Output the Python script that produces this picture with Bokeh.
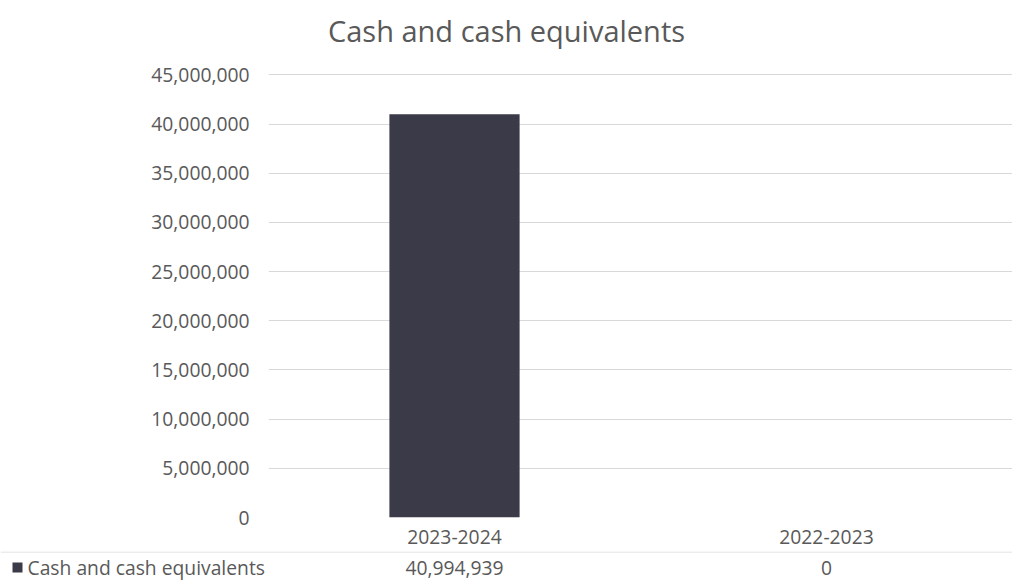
from bokeh.plotting import figure
from bokeh.models import (FactorRange, Range1d, NumeralTickFormatter,
                          ColumnDataSource, SingleIntervalTicker, Span)
from bokeh.layouts import column
from bokeh.core.properties import value
from bokeh.embed import file_html
from bokeh.resources import INLINE

title = "Cash and cash equivalents"
series_name = "Cash and cash equivalents"
categories = ["2023-2024", "2022-2023"]
values = [40994939, 0]
y_max = 45000000
y_step = 5000000

FONT = "Open Sans"
TXT = "#595959"
BAR = "#3a3a48"
GRID = "#d9d9d9"
FS = "19.3px"

W = 1012
LEFT = 268
H_TITLE = 56
H_MAIN = 495
H_TAB = 31
n = len(categories)
cat_w = (W - LEFT) / n


def bare(fig):
    fig.outline_line_color = None
    fig.xaxis.visible = False
    fig.yaxis.visible = False
    fig.xgrid.visible = False
    fig.ygrid.visible = False


# ---- title strip (full width)
tf = figure(width=W, height=H_TITLE, x_range=Range1d(0, W), y_range=Range1d(0, H_TITLE),
            output_backend="svg", toolbar_location=None, min_border=0,
            frame_align=False)
bare(tf)
tf.text(x=[W / 2], y=[H_TITLE - 30], text=[title], text_align="center",
        text_baseline="middle", text_font=value(FONT), text_font_size="29px",
        text_color=TXT)

# ---- main chart
x_range = FactorRange(factors=categories, range_padding=0)
p = figure(width=W, height=H_MAIN, x_range=x_range,
           y_range=Range1d(0, y_max * 1.003),
           output_backend="svg", toolbar_location=None,
           min_border_left=LEFT, min_border_right=0, min_border_top=17,
           min_border_bottom=34, frame_align=False)
p.outline_line_color = None
src = ColumnDataSource(dict(cat=categories, val=values))
p.vbar(x="cat", top="val", width=0.35, source=src, fill_color=BAR, line_color=None)

p.yaxis.ticker = SingleIntervalTicker(interval=y_step)
p.yaxis.formatter = NumeralTickFormatter(format="0,0")
p.yaxis.axis_line_color = None
p.yaxis.major_tick_line_color = None
p.yaxis.minor_tick_line_color = None
p.yaxis.major_label_standoff = 13
p.yaxis.major_label_text_font = FONT
p.yaxis.major_label_text_font_size = FS
p.yaxis.major_label_text_color = TXT

p.xaxis.axis_line_color = None
p.xaxis.major_tick_line_color = None
p.xaxis.major_label_standoff = 6
p.xaxis.major_label_text_font = FONT
p.xaxis.major_label_text_font_size = FS
p.xaxis.major_label_text_color = TXT

p.xgrid.grid_line_color = None
p.ygrid.grid_line_color = GRID
p.ygrid.grid_line_width = 1

# ---- data table row (full-width frame, x in category units)
x0 = -LEFT / cat_w
t = figure(width=W, height=H_TAB, x_range=Range1d(x0, n), y_range=Range1d(0, H_TAB),
           output_backend="svg", toolbar_location=None, min_border=0,
           frame_align=False)
bare(t)
t.add_layout(Span(location=H_TAB - 0.5, dimension="width", line_color=GRID, line_width=1))
row_y = H_TAB - 16
tsrc = ColumnDataSource(dict(x=[i + 0.5 for i in range(n)],
                             lbl=[f"{v:,}" for v in values],
                             y=[row_y] * n))
t.text(x="x", y="y", text="lbl", source=tsrc, text_align="center",
       text_baseline="middle", text_font=value(FONT), text_font_size=FS,
       text_color=TXT)
t.scatter(x=[x0 + 17 / cat_w], y=[row_y], marker="square", size=10,
          fill_color=BAR, line_color=None)
t.text(x=[x0 + 27 / cat_w], y=[row_y], text=[series_name], text_align="left",
       text_baseline="middle", text_font=value(FONT), text_font_size=FS,
       text_color=TXT)

layout = column(tf, p, t, spacing=0)
open("out.html", "w").write(file_html(layout, INLINE))
